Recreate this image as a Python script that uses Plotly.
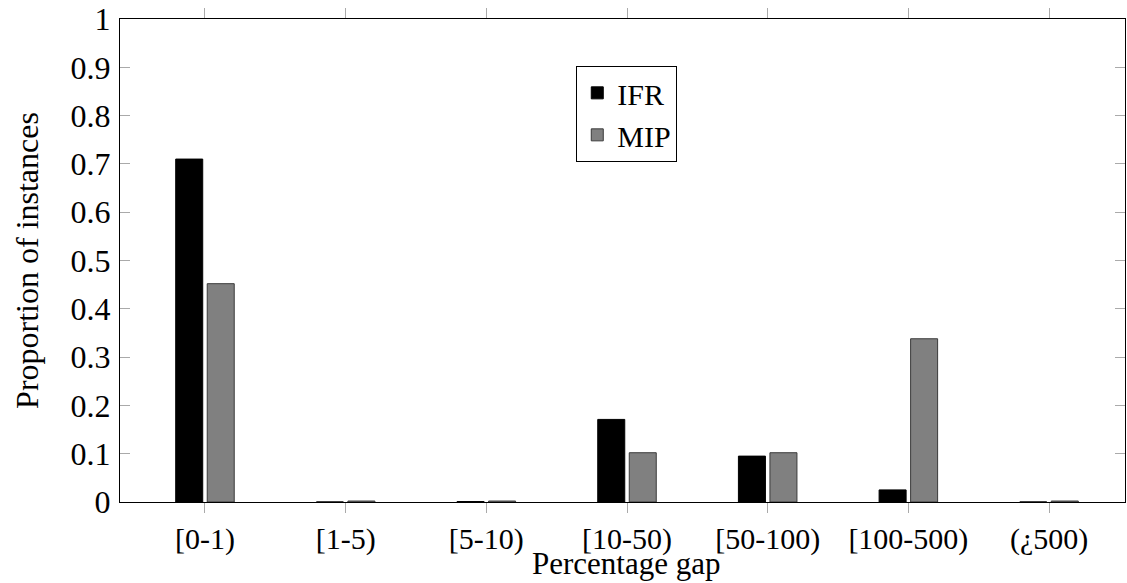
import plotly.graph_objects as go

# Gap buckets and share of instances per method
categories = ["[0-1)", "[1-5)", "[5-10)", "[10-50)", "[50-100)", "[100-500)", "(¿500)"]
ifr_values = [0.710, 0.0, 0.001, 0.171, 0.095, 0.025, 0.0]
mip_values = [0.452, 0.002, 0.002, 0.102, 0.102, 0.338, 0.002]

y_ticks = [0, 0.1, 0.2, 0.3, 0.4, 0.5, 0.6, 0.7, 0.8, 0.9, 1]
y_tick_text = ["0", "0.1", "0.2", "0.3", "0.4", "0.5", "0.6", "0.7", "0.8", "0.9", "1"]

x_title = "Percentage gap"
y_title = "Proportion of instances"

FONT = "Liberation Serif, Times New Roman, serif"
BAR_W = 0.192

fig = go.Figure()
fig.add_trace(go.Bar(
    x=categories, y=ifr_values, name="IFR",
    width=BAR_W, offset=-0.208,
    marker=dict(color="black", line=dict(color="black", width=1)),
))
fig.add_trace(go.Bar(
    x=categories, y=mip_values, name="MIP",
    width=BAR_W, offset=0.016,
    marker=dict(color="#808080", line=dict(color="#3a3a3a", width=1)),
))

fig.update_layout(
    width=1127, height=583,
    margin=dict(l=120, r=1, t=17, b=81),
    paper_bgcolor="white", plot_bgcolor="white",
    barmode="overlay",
    font=dict(family=FONT, size=31, color="black"),
    showlegend=True,
    legend=dict(
        x=0.454, y=0.903, xanchor="left", yanchor="top",
        bgcolor="white", bordercolor="black", borderwidth=1,
        font=dict(family=FONT, size=30, color="black"),
        itemwidth=30, tracegroupgap=0,
    ),
)

# x-axis title sits at the very bottom of the figure, below the tick labels
fig.add_annotation(
    text=x_title, xref="paper", yref="paper", x=0.5037, y=0,
    xanchor="center", yanchor="bottom", yshift=-80, showarrow=False,
    borderpad=0,
    font=dict(family=FONT, size=31, color="black"),
)

fig.update_xaxes(
    type="category", range=[-0.604, 6.54],
    showline=True, linecolor="black", linewidth=1.3, mirror="ticks",
    ticks="outside", ticklen=10, tickcolor="#aaaaaa", tickwidth=1,
    showgrid=False, zeroline=False,
    tickfont=dict(family=FONT, size=30, color="black"),
)
fig.update_yaxes(
    range=[0, 1], tickvals=y_ticks, ticktext=y_tick_text,
    showline=True, linecolor="black", linewidth=1.3, mirror="ticks",
    ticks="inside", ticklen=10, tickcolor="#aaaaaa", tickwidth=1,
    showgrid=False, zeroline=False,
    tickfont=dict(family=FONT, size=32, color="black"),
    ticklabelstandoff=2, ticklabeloverflow="allow",
    title=dict(text=y_title, font=dict(family=FONT, size=32), standoff=22),
)

fig.write_html("out.html")
